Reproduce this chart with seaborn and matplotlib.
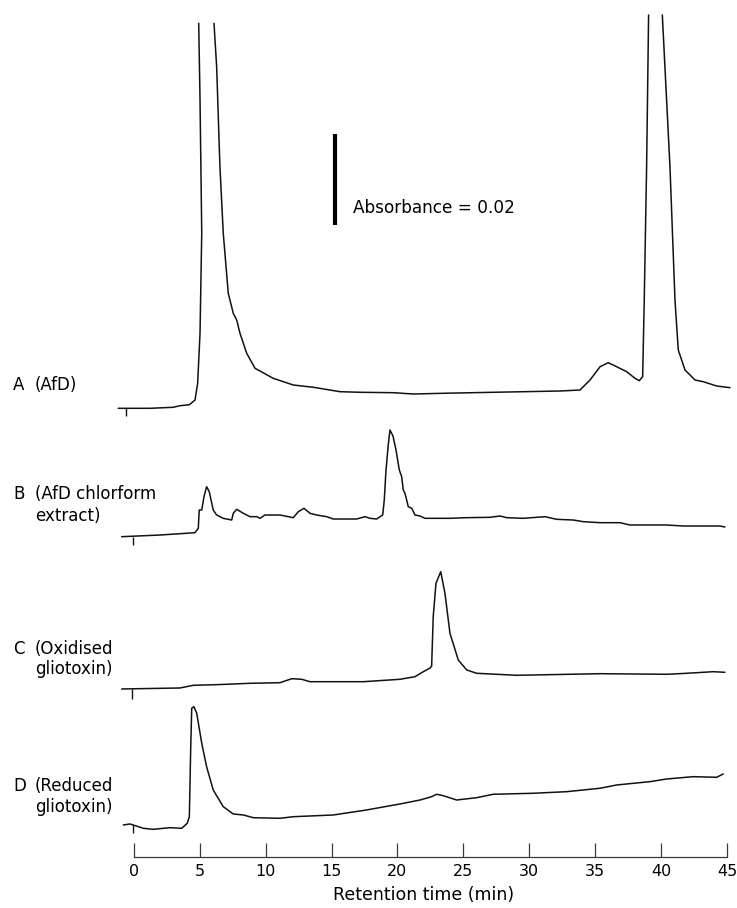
import numpy as np
import pandas as pd
import matplotlib
matplotlib.use("Agg")
import matplotlib.pyplot as plt
import seaborn as sns

sns.set_style("white")
plt.rcParams["font.family"] = ["DejaVu Sans"]
plt.rcParams["text.color"] = "black"
plt.rcParams["axes.labelcolor"] = "black"
plt.rcParams["xtick.color"] = "black"

nan = np.nan

# retention time (min) and absorbance (mAU, relative to trace start); nan = pen off scale
time_a = [-1.17, 1.24, 3.00, 3.51, 4.22, 4.65, 4.85, 5.03, 5.16, 5.03, 4.93, nan,
          6.09, 6.29, 6.54, 6.79, 7.17, 7.55, 7.81, 8.06, 8.57, 9.20, 10.58, 12.10,
          13.62, 15.64, 17.16, 19.68, 21.20, 23.47, 27.26, 32.32, 33.84, 34.60, 35.36,
          35.98, 36.62, 37.38, 38.01, 38.33, 38.59, 38.71, 38.89, 39.04, nan,
          40.08, 40.66, 41.04, 41.29, 41.80, 42.56, 43.18, 44.20, 45.21]
abs_a = [0, 0, 0.22, 0.57, 0.79, 1.82, 5.49, 16.48, 38.53, 67.76, 84.62, nan,
         84.62, 75.08, 53.10, 38.53, 25.27, 20.88, 19.41, 16.48, 12.09, 8.79, 6.59, 5.12,
         4.62, 3.65, 3.52, 3.43, 3.14, 3.30, 3.52, 3.80, 4.02, 6.22, 9.14,
         10.02, 9.14, 8.04, 6.59, 6.07, 6.95, 23.80, 53.10, 86.44, nan,
         86.44, 53.10, 23.80, 12.81, 8.42, 6.22, 5.85, 4.90, 4.53]

time_b = [-0.91, 1.99, 4.65, 4.90, 4.97, 5.16, 5.33, 5.53, 5.73, 6.03, 6.29, 6.79,
          7.43, 7.55, 7.81, 8.31, 8.82, 9.33, 9.58, 9.95, 11.09, 12.10, 12.48, 12.91,
          13.37, 13.87, 14.63, 15.13, 16.91, 17.54, 17.92, 18.42, 18.88, 19.00, 19.13,
          19.30, 19.43, 19.66, 19.89, 20.14, 20.32, 20.44, 20.57, 20.82, 21.08, 21.33,
          21.71, 22.08, 22.71, 23.98, 25.25, 27.01, 27.77, 28.28, 29.54, 31.18, 32.07,
          33.33, 34.09, 35.35, 36.87, 37.63, 40.41, 41.67, 44.45, 44.83]
abs_b = [0, 0.37, 0.88, 1.85, 5.87, 5.87, 8.79, 10.99, 9.89, 5.87, 4.77, 4.04,
         3.67, 5.14, 6.02, 5.14, 4.40, 4.40, 4.04, 4.77, 4.77, 4.18, 5.49, 6.24,
         5.14, 4.77, 4.40, 3.89, 3.89, 4.40, 4.04, 3.89, 4.77, 8.07, 14.66,
         20.15, 23.45, 22.13, 19.05, 14.66, 13.19, 10.26, 9.54, 6.59, 6.24, 4.77,
         4.55, 4.04, 4.04, 4.04, 4.18, 4.26, 4.55, 4.18, 4.04, 4.40, 3.82,
         3.67, 3.30, 3.08, 3.08, 2.57, 2.57, 2.35, 2.35, 2.13]

time_c = [-0.91, 3.51, 4.52, 6.29, 8.82, 11.09, 11.98, 12.74, 13.37, 17.41, 20.19,
          21.33, 21.84, 22.46, 22.59, 22.71, 22.92, 23.28, 23.60, 23.98, 24.61, 25.25,
          26.00, 29.04, 35.35, 40.41, 41.93, 43.94, 44.83]
abs_c = [0, 0.22, 0.81, 0.95, 1.25, 1.38, 2.26, 2.13, 1.60, 1.60, 2.13,
         2.70, 3.60, 4.60, 5.00, 15.89, 23.23, 25.78, 21.03, 12.24, 6.37, 4.18,
         3.45, 3.01, 3.36, 3.23, 3.45, 3.80, 3.67]

time_d = [-0.79, -0.28, 0.73, 1.49, 2.75, 3.64, 4.06, 4.22, 4.32, 4.40, 4.57, 4.78,
          5.16, 5.53, 6.03, 6.79, 7.55, 8.31, 9.07, 11.09, 12.10, 15.13, 17.66, 20.19,
          21.71, 22.59, 22.97, 23.47, 24.49, 26.00, 27.26, 30.30, 32.83, 35.35, 36.62,
          37.88, 39.14, 40.41, 42.43, 44.20, 44.70]
abs_d = [0, 0.22, -0.73, -0.95, -0.59, -0.73, 0.37, 1.82, 16.48, 25.65, 26.00, 24.55,
         17.96, 12.81, 7.69, 4.02, 2.42, 2.20, 1.60, 1.47, 1.82, 2.20, 3.30, 4.62,
         5.49, 6.22, 6.75, 6.44, 5.49, 6.00, 6.75, 6.97, 7.32, 8.07, 8.79,
         9.16, 9.52, 10.11, 10.62, 10.48, 11.21]

# injection marks (min) and their depth (mAU)
inject_time = [-0.58, -0.08, -0.15, -0.03]
inject_depth = [1.6, 1.8, 2.3, 1.7]

trace_names = ["A", "B", "C", "D"]
trace_desc = [["(AfD)"], ["(AfD chlorform", "extract)"],
              ["(Oxidised", "gliotoxin)"], ["(Reduced", "gliotoxin)"]]
scale_bar_mau = 20
scale_bar_label = "Absorbance = 0.02"
x_ticks = [0, 5, 10, 15, 20, 25, 30, 35, 40, 45]

# layout (vertical stacking offsets in mAU, label baselines in px)
offsets = [98.55, 70.33, 36.86, 6.97]
label_baselines = [[390], [499.3, 520.7], [654, 674.5], [790.7, 811.5]]

W, H = 737, 908
fig = plt.figure(figsize=(W / 100, H / 100), dpi=100)
ax = fig.add_axes([113.9 / W, 51.3 / H, 619.9 / W, 846.7 / H])

frames = []
for name, t, a, off in zip(trace_names, [time_a, time_b, time_c, time_d],
                           [abs_a, abs_b, abs_c, abs_d], offsets):
    d = pd.DataFrame({"time": t, "mau": a})
    d["seg"] = d["mau"].isna().cumsum()
    d = d.dropna()
    d["y"] = d["mau"] + off
    d["unit"] = name + d["seg"].astype(str)
    frames.append(d)
df = pd.concat(frames, ignore_index=True)

sns.lineplot(data=df, x="time", y="y", units="unit", estimator=None, sort=False,
             color="#111111", linewidth=1.1, ax=ax)

ax.vlines(inject_time, offsets, np.array(offsets) - np.array(inject_depth),
          color="#111111", linewidth=1.0)

# scale bar
bar_x, bar_y0 = 15.26, 138.8
ax.vlines([bar_x], [bar_y0], [bar_y0 + scale_bar_mau], color="black", linewidth=3.0)
ax.text(16.62, 141.4, scale_bar_label, fontsize=12.2, va="baseline", ha="left")

ax.set_xlim(-1.5, 45.5)
ax.set_ylim(0, 846.7 / 4.55)
ax.set_yticks([])
ax.set_ylabel("")
for s in ["left", "right", "top"]:
    ax.spines[s].set_visible(False)
ax.spines["bottom"].set_bounds(0, 45)
ax.spines["bottom"].set_color("#3a3a3a")
ax.spines["bottom"].set_linewidth(0.9)
ax.set_xticks(x_ticks)
ax.tick_params(axis="x", direction="in", length=9.8, width=0.9, color="#3a3a3a",
               labelcolor="black", pad=5, labelsize=11.5, bottom=True)
ax.set_xlabel("Retention time (min)", fontsize=12.5, labelpad=5, color="black")

for name, desc, bases in zip(trace_names, trace_desc, label_baselines):
    fig.text(13 / W, 1 - bases[0] / H, name, fontsize=12, va="baseline", ha="left")
    for line, b in zip(desc, bases):
        fig.text(35 / W, 1 - b / H, line, fontsize=12, va="baseline", ha="left")

fig.savefig("out.png", dpi=100)
